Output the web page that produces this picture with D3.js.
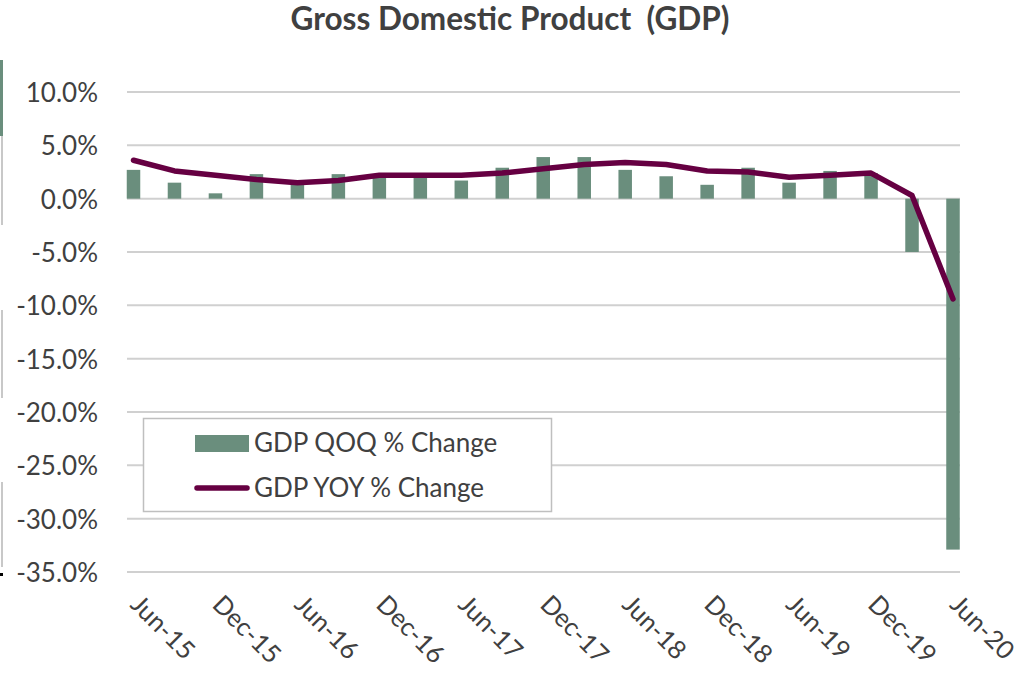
<!DOCTYPE html>
<html><head><meta charset="utf-8">
<script src="https://cdn.jsdelivr.net/npm/d3@7"></script>
<style>body{margin:0;background:#fff;} svg{display:block;}</style>
</head><body>
<svg id="c" width="1030" height="673"></svg>
<script>
const categories = ["Jun-15","Sep-15","Dec-15","Mar-16","Jun-16","Sep-16","Dec-16","Mar-17","Jun-17","Sep-17","Dec-17","Mar-18","Jun-18","Sep-18","Dec-18","Mar-19","Jun-19","Sep-19","Dec-19","Mar-20","Jun-20"];
const qoq = [2.7,1.5,0.5,2.3,1.5,2.3,2.2,2.2,1.7,2.9,3.9,3.9,2.7,2.1,1.3,2.9,1.5,2.6,2.4,-5.0,-32.9];
const yoy = [3.6,2.6,2.2,1.8,1.5,1.7,2.2,2.2,2.2,2.4,2.8,3.2,3.4,3.2,2.6,2.5,2.0,2.2,2.4,0.3,-9.4];
const yTicks = [10,5,0,-5,-10,-15,-20,-25,-30,-35];
const xLabels = ["Jun-15","Dec-15","Jun-16","Dec-16","Jun-17","Dec-17","Jun-18","Dec-18","Jun-19","Dec-19","Jun-20"];
const seriesNames = ["GDP QOQ % Change","GDP YOY % Change"];
const titleText = "Gross Domestic Product  (GDP)";

const barColor = "#6a8e7d", lineColor = "#660042", textColor = "#404040", gridColor = "#d0d0d0";
const font = "Lato, 'Open Sans', sans-serif";
const svg = d3.select("#c");

const y = d3.scaleLinear().domain([-35,10]).range([572,92]);
const x = d3.scalePoint().domain(categories).range([133.5,953]);
const gridX0 = 127, gridX1 = 960, barW = 13.5;

// left edge artifacts
svg.append("rect").attr("x",0).attr("y",60).attr("width",3).attr("height",76).attr("fill",barColor);
[[136,225],[310,398],[482,567]].forEach(s=>svg.append("rect").attr("x",1).attr("y",s[0]).attr("width",2).attr("height",s[1]-s[0]).attr("fill","#c8c8c8"));
svg.append("rect").attr("x",0).attr("y",573).attr("width",3).attr("height",3).attr("fill","#000");

// title
svg.append("text").attr("x",510).attr("y",30).attr("text-anchor","middle")
  .attr("font-family",font).attr("font-weight","bold").attr("font-size",31.5).attr("fill",textColor)
  .style("white-space","pre").text(titleText);

// grid
svg.append("g").selectAll("line").data(yTicks).join("line")
  .attr("x1",gridX0).attr("x2",gridX1).attr("y1",d=>y(d)).attr("y2",d=>y(d))
  .attr("stroke",gridColor).attr("stroke-width",2);

// y axis labels
const fmt = d => d3.format(".1f")(d).replace("\u2212","-") + "%";
const yAxis = d3.axisLeft(y).tickValues(yTicks).tickSize(0).tickPadding(0).tickFormat(fmt);
const ga = svg.append("g").attr("transform","translate(98,0)").call(yAxis);
ga.select(".domain").remove();
ga.selectAll("text").attr("font-family",font).attr("font-size",26).attr("fill",textColor).attr("dy","0.36em");

// bars
svg.append("g").selectAll("rect").data(qoq).join("rect")
  .attr("x",(d,i)=>x(categories[i])-barW/2).attr("width",barW)
  .attr("y",d=>y(Math.max(0,d))).attr("height",d=>Math.abs(y(d)-y(0)))
  .attr("fill",barColor);

// line
svg.append("path").datum(yoy)
  .attr("d",d3.line().x((d,i)=>x(categories[i])).y(d=>y(d)))
  .attr("fill","none").attr("stroke",lineColor).attr("stroke-width",5.5)
  .attr("stroke-linecap","round").attr("stroke-linejoin","round");

// x labels
const xa = d3.axisBottom(x).tickValues(xLabels).tickSize(0).tickPadding(0);
const gx = svg.append("g").attr("transform","translate(0,606)").call(xa);
gx.select(".domain").remove();
gx.selectAll("text").attr("font-family",font).attr("font-size",25.5).attr("fill",textColor)
  .attr("text-anchor","start").attr("dy",0).attr("transform","translate(-5,0) rotate(45)");

// legend
const lg = svg.append("g");
lg.append("rect").attr("x",143.5).attr("y",418.5).attr("width",408).attr("height",93)
  .attr("fill","#fff").attr("stroke","#bfbfbf").attr("stroke-width",1.5);
lg.append("rect").attr("x",195).attr("y",435).attr("width",54).attr("height",17).attr("fill",barColor);
lg.append("line").attr("x1",197).attr("x2",247).attr("y1",488).attr("y2",488)
  .attr("stroke",lineColor).attr("stroke-width",5.5).attr("stroke-linecap","round");
lg.selectAll("text").data(seriesNames).join("text")
  .attr("x",254).attr("y",(d,i)=>452+i*45)
  .attr("font-family",font).attr("font-size",26).attr("fill",textColor).text(d=>d);
</script>
</body></html>
